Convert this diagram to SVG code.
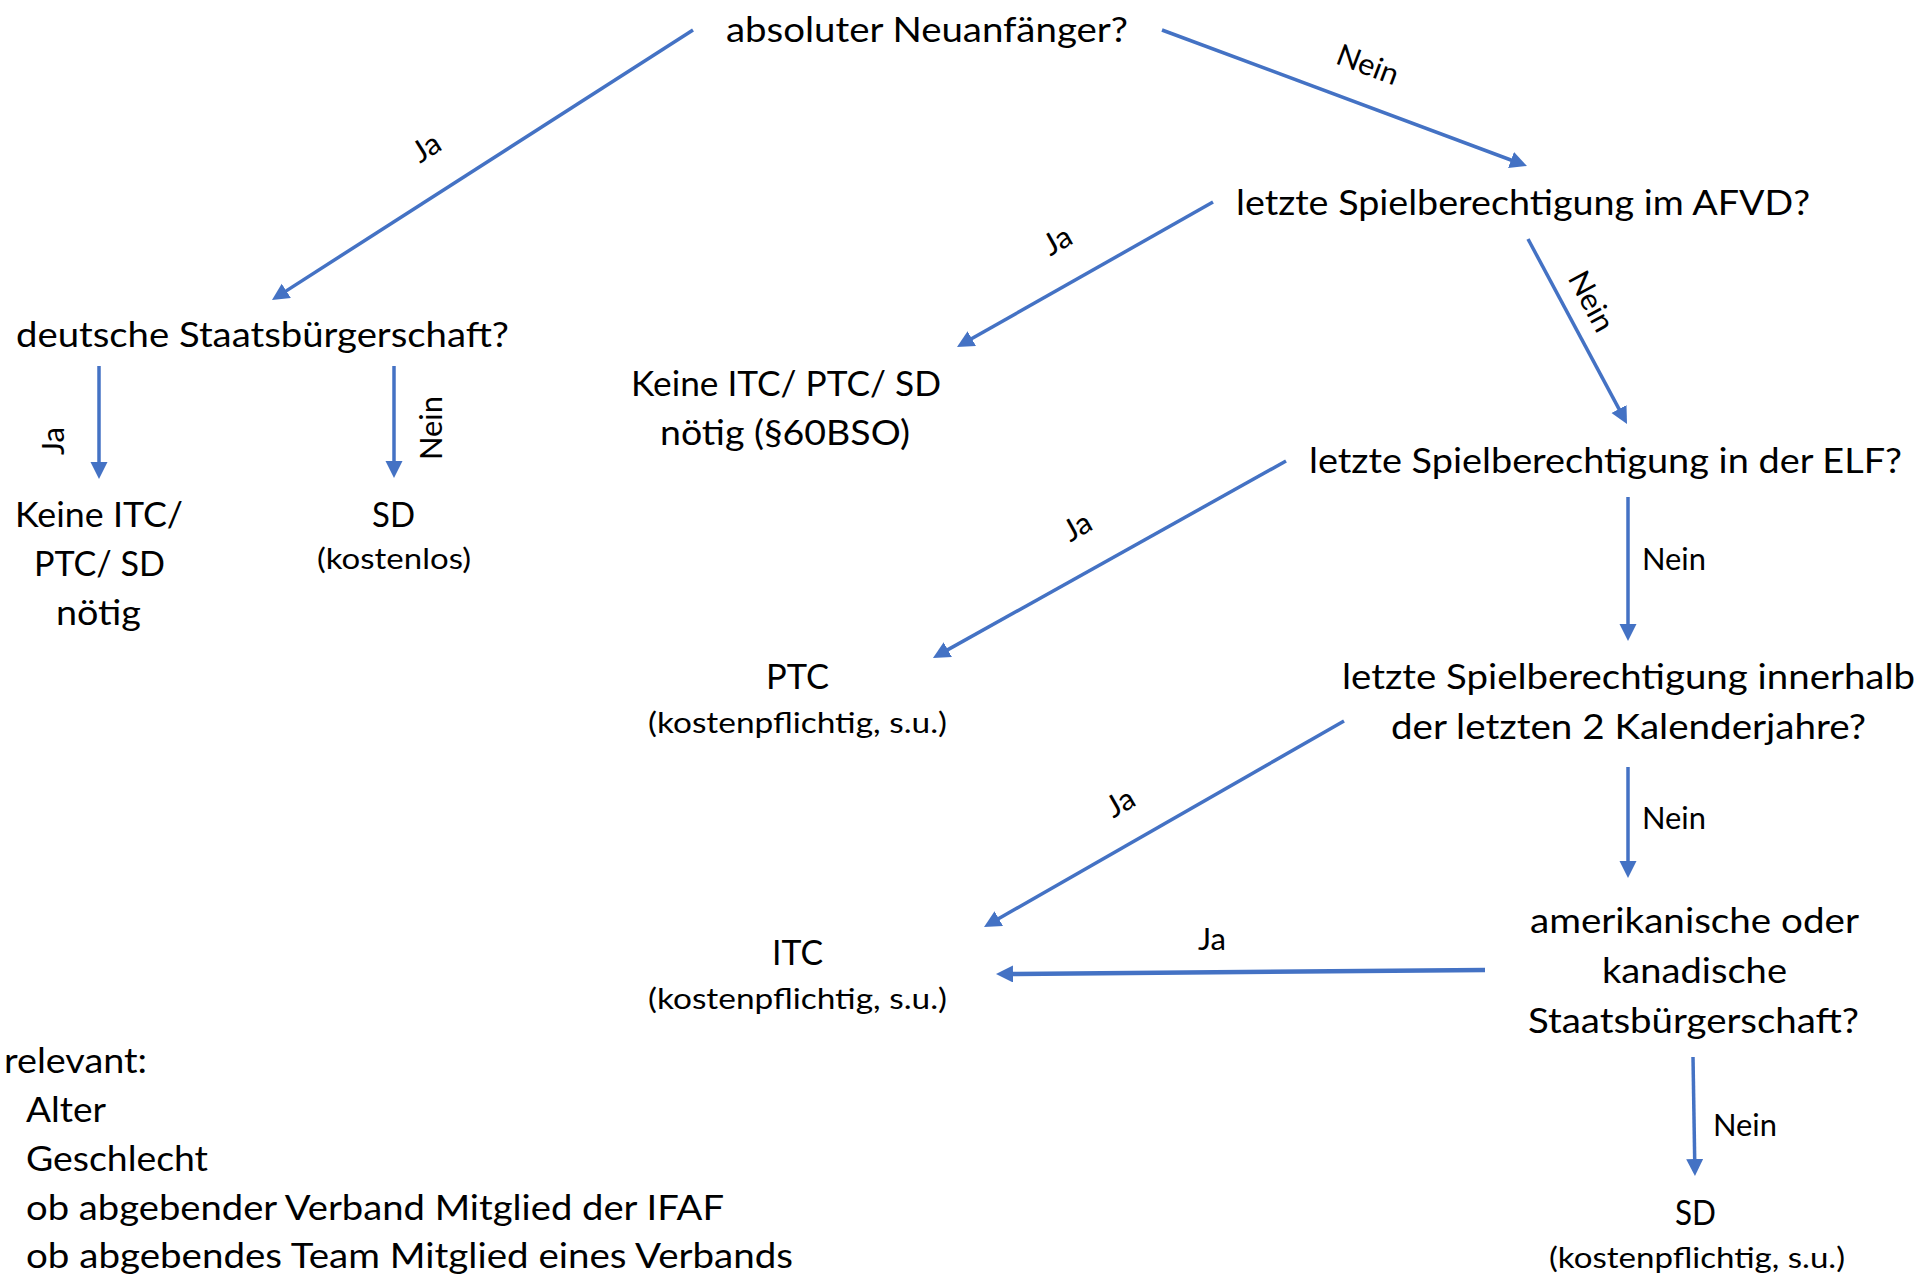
<svg xmlns="http://www.w3.org/2000/svg" width="1921" height="1277" viewBox="0 0 1921 1277">
<style>
text{font-family:Lato,"Open Sans","Liberation Sans",sans-serif;fill:#000}
.m{font-size:35px;text-anchor:middle}
.s{font-size:29px;text-anchor:middle}
.l{font-size:30px;text-anchor:middle}
.left{font-size:35px;text-anchor:start}
.c{fill:none;stroke:#4472C4;stroke-width:3.5}
</style>
<defs>
<marker id="ah" markerUnits="userSpaceOnUse" markerWidth="18" markerHeight="18" refX="7" refY="8.5" orient="auto">
<path d="M0,0 L17,8.5 L0,17 z" fill="#4472C4"/>
</marker>
</defs>
<rect width="1921" height="1277" fill="#fff"/>
<g id="connectors">
<path class="c" d="M693,30 L280.4,294.6" marker-end="url(#ah)"/>
<path class="c" d="M1162,30 L1517.6,162.5" marker-end="url(#ah)"/>
<path class="c" d="M1213,202 L965.7,342.1" marker-end="url(#ah)"/>
<path class="c" d="M1528,239 L1622.3,415.2" marker-end="url(#ah)"/>
<path class="c" d="M1286,461 L941.7,653.1" marker-end="url(#ah)"/>
<path class="c" d="M1628,497 L1628,631" marker-end="url(#ah)"/>
<path class="c" d="M1344,721 L992.7,922" marker-end="url(#ah)"/>
<path class="c" d="M1628,767 L1628,868" marker-end="url(#ah)"/>
<path class="c" style="stroke-width:4.5" d="M1485,970 L1006,974" marker-end="url(#ah)"/>
<path class="c" d="M1693,1057 L1694.8,1166" marker-end="url(#ah)"/>
<path class="c" d="M99,366 L99,469" marker-end="url(#ah)"/>
<path class="c" d="M394,366 L394,468" marker-end="url(#ah)"/>
<g transform="translate(426,147) rotate(-32)"><text class="l" x="0" y="11" textLength="28" lengthAdjust="spacingAndGlyphs">Ja</text></g>
<g transform="translate(1368,64) rotate(20.7)"><text class="l" x="0" y="11" textLength="64" lengthAdjust="spacingAndGlyphs">Nein</text></g>
<g transform="translate(1057,240) rotate(-29.5)"><text class="l" x="0" y="11" textLength="28" lengthAdjust="spacingAndGlyphs">Ja</text></g>
<g transform="translate(1592,301) rotate(61.7)"><text class="l" x="0" y="11" textLength="64" lengthAdjust="spacingAndGlyphs">Nein</text></g>
<g transform="translate(1077,526) rotate(-29.2)"><text class="l" x="0" y="11" textLength="28" lengthAdjust="spacingAndGlyphs">Ja</text></g>
<text class="l" x="1674" y="570" textLength="64" lengthAdjust="spacingAndGlyphs">Nein</text>
<g transform="translate(1120,802) rotate(-29.9)"><text class="l" x="0" y="11" textLength="28" lengthAdjust="spacingAndGlyphs">Ja</text></g>
<text class="l" x="1674" y="829" textLength="64" lengthAdjust="spacingAndGlyphs">Nein</text>
<text class="l" x="1212" y="950" textLength="28" lengthAdjust="spacingAndGlyphs">Ja</text>
<text class="l" x="1745" y="1136" textLength="64" lengthAdjust="spacingAndGlyphs">Nein</text>
<g transform="translate(54,441) rotate(-90)"><text class="l" x="0" y="10" textLength="28" lengthAdjust="spacingAndGlyphs">Ja</text></g>
<g transform="translate(431,428) rotate(-90)"><text class="l" x="0" y="11" textLength="64" lengthAdjust="spacingAndGlyphs">Nein</text></g>
</g>
<g id="n-neuanfaenger"><text class="m" x="927" y="42" textLength="402" lengthAdjust="spacingAndGlyphs">absoluter Neuanfänger?</text></g>
<g id="n-afvd"><text class="m" x="1523" y="215" textLength="574" lengthAdjust="spacingAndGlyphs">letzte Spielberechtigung im AFVD?</text></g>
<g id="n-elf"><text class="m" x="1605.5" y="473" textLength="593" lengthAdjust="spacingAndGlyphs">letzte Spielberechtigung in der ELF?</text></g>
<g id="n-kalender">
<text class="m" x="1628.5" y="689" textLength="573" lengthAdjust="spacingAndGlyphs">letzte Spielberechtigung innerhalb</text>
<text class="m" x="1628.5" y="739" textLength="475" lengthAdjust="spacingAndGlyphs">der letzten 2 Kalenderjahre?</text>
</g>
<g id="n-amerika">
<text class="m" x="1694.5" y="933" textLength="329" lengthAdjust="spacingAndGlyphs">amerikanische oder</text>
<text class="m" x="1694.5" y="983" textLength="185" lengthAdjust="spacingAndGlyphs">kanadische</text>
<text class="m" x="1693.5" y="1033" textLength="331" lengthAdjust="spacingAndGlyphs">Staatsbürgerschaft?</text>
</g>
<g id="n-sd-kostenpflichtig">
<text class="m" x="1695.5" y="1225" textLength="41" lengthAdjust="spacingAndGlyphs">SD</text>
<text class="s" x="1697" y="1268" textLength="296" lengthAdjust="spacingAndGlyphs">(kostenpflichtig, s.u.)</text>
</g>
<g id="n-deutsch"><text class="m" x="262.5" y="347" textLength="493" lengthAdjust="spacingAndGlyphs">deutsche Staatsbürgerschaft?</text></g>
<g id="n-keine1">
<text class="m" x="99" y="527" textLength="168" lengthAdjust="spacingAndGlyphs">Keine ITC/</text>
<text class="m" x="99.5" y="576" textLength="131" lengthAdjust="spacingAndGlyphs">PTC/ SD</text>
<text class="m" x="98.5" y="625" textLength="85" lengthAdjust="spacingAndGlyphs">nötig</text>
</g>
<g id="n-sd-kostenlos">
<text class="m" x="393.5" y="527" textLength="43" lengthAdjust="spacingAndGlyphs">SD</text>
<text class="s" x="394" y="569" textLength="154" lengthAdjust="spacingAndGlyphs">(kostenlos)</text>
</g>
<g id="n-keine2">
<text class="m" x="786" y="396" textLength="310" lengthAdjust="spacingAndGlyphs">Keine ITC/ PTC/ SD</text>
<text class="m" x="785" y="445" textLength="250" lengthAdjust="spacingAndGlyphs">nötig (§60BSO)</text>
</g>
<g id="n-ptc">
<text class="m" x="797.5" y="689" textLength="63" lengthAdjust="spacingAndGlyphs">PTC</text>
<text class="s" x="797.5" y="733" textLength="299" lengthAdjust="spacingAndGlyphs">(kostenpflichtig, s.u.)</text>
</g>
<g id="n-itc">
<text class="m" x="797.5" y="965" textLength="51" lengthAdjust="spacingAndGlyphs">ITC</text>
<text class="s" x="797.5" y="1009" textLength="299" lengthAdjust="spacingAndGlyphs">(kostenpflichtig, s.u.)</text>
</g>
<g id="notes">
<text class="left" x="4" y="1073" textLength="143" lengthAdjust="spacingAndGlyphs">relevant:</text>
<text class="left" x="26" y="1122" textLength="80" lengthAdjust="spacingAndGlyphs">Alter</text>
<text class="left" x="26" y="1171" textLength="182" lengthAdjust="spacingAndGlyphs">Geschlecht</text>
<text class="left" x="26" y="1220" textLength="698" lengthAdjust="spacingAndGlyphs">ob abgebender Verband Mitglied der IFAF</text>
<text class="left" x="26" y="1268" textLength="767" lengthAdjust="spacingAndGlyphs">ob abgebendes Team Mitglied eines Verbands</text>
</g>
</svg>
